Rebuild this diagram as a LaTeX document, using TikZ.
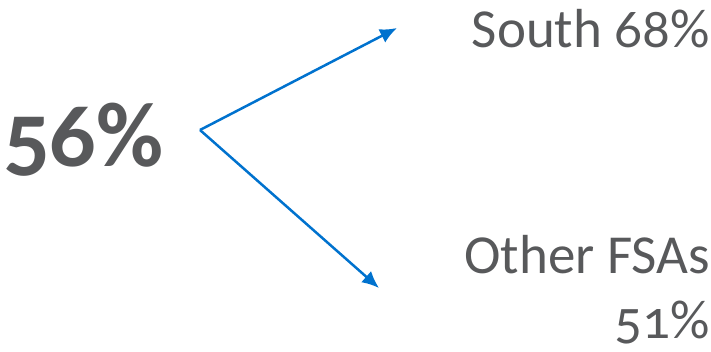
\documentclass[tikz,border=0pt]{standalone}
\usepackage{fontspec}
\setmainfont[Numbers=OldStyle]{Carlito}
\usepackage{xcolor}
\usepackage{tikz}
\usetikzlibrary{arrows.meta}
\definecolor{txtgray}{RGB}{88,89,91}
\definecolor{arrblue}{RGB}{0,114,206}
\tikzset{
  share/.style={text=txtgray, inner sep=0pt},
  split/.style={-{Latex[length=17pt,width=15pt]}, line width=2.5pt, arrblue}
}

\begin{document}
\begin{tikzpicture}[x=1pt, y=-1pt]
\useasboundingbox (0,0) rectangle (711,351);

% ---- overall share ----
\node[share, anchor=base west, font=\fontsize{92}{100}\selectfont\bfseries] (total) at (3,166) {56\%};

% ---- regional shares ----
\node[share, anchor=base east, font=\fontsize{55}{65}\selectfont] (south) at (710,47) {South 68\%};
\node[share, anchor=base east, font=\fontsize{55}{65}\selectfont] (other) at (710,273) {Other FSAs};
\node[share, anchor=base east, font=\fontsize{55}{65}\selectfont] (otherpct) at (710,338) {51\%};

% ---- split arrows ----
\coordinate (fork) at (200,130);
\coordinate (tosouth) at (397,28);
\coordinate (toother) at (379,288);
\draw[split] (fork) -- (tosouth);
\draw[split] (fork) -- (toother);

\end{tikzpicture}
\end{document}
